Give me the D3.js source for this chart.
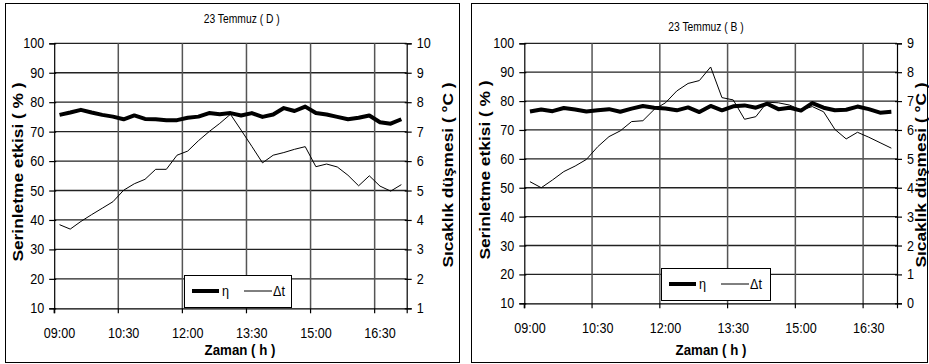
<!DOCTYPE html>
<html><head><meta charset="utf-8">
<script src="https://cdn.jsdelivr.net/npm/d3@7"></script>
<style>
html,body{margin:0;padding:0;background:#fff;}
svg{display:block;}
.narrow{font-family:'Liberation Sans',Arial,sans-serif;}
.bold{font-family:'Liberation Sans',Arial,sans-serif;font-weight:bold;}
</style></head>
<body>
<svg id="c" width="929" height="364"></svg>
<script>
const categories = ["09:00","09:15","09:30","09:45","10:00","10:15","10:30","10:45","11:00","11:15","11:30","11:45",
  "12:00","12:15","12:30","12:45","13:00","13:15","13:30","13:45","14:00","14:15","14:30","14:45",
  "15:00","15:15","15:30","15:45","16:00","16:15","16:30","16:45","17:00"];
const xTickLabels = ["09:00","10:30","12:00","13:30","15:00","16:30"];
const leftTicks = [10,20,30,40,50,60,70,80,90,100];
const rightTicksD = [1,2,3,4,5,6,7,8,9,10];
const rightTicksB = [0,1,2,3,4,5,6,7,8,9];
const etaD = [75.7,76.5,77.4,76.5,75.7,75.1,74.2,75.5,74.3,74.2,73.9,73.9,74.7,75.1,76.3,75.9,76.3,75.5,76.3,75.0,75.8,78.0,77.0,78.5,76.3,75.8,75.0,74.2,74.7,75.5,73.2,72.7,74.2];
const dtD  = [3.84,3.69,3.95,4.18,4.40,4.62,5.01,5.23,5.38,5.72,5.72,6.20,6.34,6.69,7.00,7.28,7.59,7.05,6.50,5.94,6.20,6.29,6.40,6.49,5.81,5.90,5.80,5.52,5.16,5.50,5.15,4.98,5.20];
const etaB = [76.4,77.1,76.5,77.6,77.1,76.4,76.8,77.2,76.3,77.4,78.3,77.7,77.4,76.8,77.8,76.2,78.3,76.8,78.2,78.5,77.7,79.1,77.2,77.7,76.7,79.3,77.7,76.8,77.0,78.1,77.2,76.0,76.3];
const dtB  = [4.21,4.00,4.27,4.56,4.75,4.98,5.42,5.77,5.97,6.29,6.32,6.71,6.94,7.35,7.61,7.71,8.18,7.12,7.04,6.37,6.46,6.96,6.94,6.86,6.69,6.81,6.63,6.02,5.69,5.92,5.75,5.56,5.37];
const titles = ["23 Temmuz ( D )","23 Temmuz ( B )"];
const yTitle = "Serinletme etkisi ( % )";
const y2Title = "Sıcaklık düşmesi ( °C )";
const xTitle = "Zaman ( h )";
const legendLabels = ["η","Δt"];

const svg = d3.select("#c");

// horizontally condense text around its anchor point
function condense(sel, sx){
  sel.each(function(){
    const t = d3.select(this);
    const x = +(t.attr("x")||0), y = +(t.attr("y")||0);
    t.attr("x",0).attr("y",0).attr("transform",`translate(${x},${y}) scale(${sx},1)`);
  });
}

function panel(cfg){
  const g = svg.append("g");
  g.append("rect").attr("x",cfg.bx+0.5).attr("y",cfg.by+0.5).attr("width",cfg.bw).attr("height",cfg.bh)
    .attr("fill","#fff").attr("stroke","#000").attr("stroke-width",1);
  const x = d3.scaleBand().domain(categories).range([cfg.x0,cfg.x1]).paddingInner(0).paddingOuter(0);
  const y = d3.scaleLinear().domain([10,100]).range([cfg.yb,cfg.yt]);
  const y2 = d3.scaleLinear().domain(cfg.r2).range([cfg.yb,cfg.yt]);
  const tickCats = categories.filter(c=>xTickLabels.includes(c));
  g.append("g").selectAll("line").data(leftTicks.slice(1)).join("line")
    .attr("x1",cfg.x0).attr("x2",cfg.x1).attr("y1",d=>y(d)).attr("y2",d=>y(d))
    .attr("stroke","#222").attr("stroke-width",1.3);
  g.append("g").selectAll("line").data(tickCats.slice(1)).join("line")
    .attr("x1",d=>x(d)).attr("x2",d=>x(d)).attr("y1",cfg.yt).attr("y2",cfg.yb)
    .attr("stroke","#555").attr("stroke-width",1.5);
  const ya = d3.axisLeft(y).tickValues(leftTicks).tickSize(5).tickPadding(5);
  const yaG = g.append("g").attr("transform",`translate(${cfg.x0},0)`).call(ya);
  const y2a = d3.axisRight(y2).tickValues(cfg.r2ticks).tickFormat(d3.format("d")).tickSize(5).tickPadding(5);
  const y2G = g.append("g").attr("transform",`translate(${cfg.x1},0)`).call(y2a);
  const xa = d3.axisBottom(x).tickValues(tickCats).tickSize(5).tickPadding(15);
  const xG = g.append("g").attr("transform",`translate(0,${cfg.yb})`).call(xa);
  xG.selectAll(".tick").attr("transform",d=>`translate(${x(d)},0)`);
  xG.selectAll(".tick text").attr("x",x.bandwidth()/2);
  [yaG,y2G,xG].forEach(a=>{
    a.attr("font-family",null).attr("font-size",null);
    a.select(".domain").attr("stroke","#000").attr("stroke-width",1.2);
    a.selectAll(".tick line").attr("stroke","#000").attr("stroke-width",1.2);
    a.selectAll(".tick text").attr("class","narrow").attr("font-size",14).attr("fill","#000");
    condense(a.selectAll(".tick text"),0.9);
  });
  yaG.selectAll(".tick line").attr("x2",-5).attr("x1",2);
  y2G.selectAll(".tick line").attr("x1",-2).attr("x2",5);
  const cx = d=>x(d)+x.bandwidth()/2;
  const lineEta = d3.line().x((d,i)=>cx(categories[i])).y(d=>y(d));
  const lineDt = d3.line().x((d,i)=>cx(categories[i])).y(d=>y2(d));
  g.append("path").datum(cfg.dt).attr("d",lineDt).attr("fill","none").attr("stroke","#000").attr("stroke-width",1);
  g.append("path").datum(cfg.eta).attr("d",lineEta).attr("fill","none").attr("stroke","#000").attr("stroke-width",4).attr("stroke-linejoin","round");
  const tt = g.append("text").attr("class","narrow").attr("x",cfg.tx).attr("y",cfg.ty).attr("text-anchor","middle")
    .attr("font-size",12).text(cfg.title);
  condense(tt,0.86);
  g.append("text").attr("class","bold").attr("font-size",14).attr("text-anchor","middle")
    .attr("transform",`translate(${cfg.ylx},${cfg.yly}) rotate(-90) scale(1.24,1)`).text(yTitle);
  g.append("text").attr("class","bold").attr("font-size",14).attr("text-anchor","middle")
    .attr("transform",`translate(${cfg.y2lx},${cfg.y2ly}) rotate(-90) scale(1.24,1)`).text(y2Title);
  const xt = g.append("text").attr("class","bold").attr("font-size",14).attr("text-anchor","middle")
    .attr("x",cfg.xlx).attr("y",355).text(xTitle);
  condense(xt,0.95);
  const L = cfg.leg;
  const lg = g.append("g").attr("transform",`translate(${L[0]},${L[1]})`);
  lg.append("rect").attr("x",0.5).attr("y",0.5).attr("width",L[2]).attr("height",L[3]).attr("fill","#fff").attr("stroke","#000");
  lg.append("line").attr("x1",8).attr("x2",35).attr("y1",16).attr("y2",16).attr("stroke","#000").attr("stroke-width",4);
  const l1 = lg.append("text").attr("class","narrow").attr("x",38).attr("y",21).attr("font-size",14).text(legendLabels[0]);
  lg.append("line").attr("x1",60).attr("x2",88).attr("y1",16).attr("y2",16).attr("stroke","#000").attr("stroke-width",1);
  const l2 = lg.append("text").attr("class","narrow").attr("x",89).attr("y",21).attr("font-size",14).text(legendLabels[1]);
  condense(l1,0.9); condense(l2,0.9);
}

panel({bx:5,by:3,bw:454,bh:359,x0:54.2,x1:406.7,yt:43.3,yb:308.3,r2:[1,10],r2ticks:rightTicksD,
  eta:etaD,dt:dtD,title:titles[0],tx:241.7,ty:22.5,ylx:23,yly:172,y2lx:453,y2ly:175,xlx:240,leg:[184,275,107,32]});
panel({bx:471,by:3,bw:456,bh:359,x0:524.3,x1:897,yt:43.3,yb:303.3,r2:[0,9],r2ticks:rightTicksB,
  eta:etaB,dt:dtB,title:titles[1],tx:706,ty:30.5,ylx:490,yly:170,y2lx:926,y2ly:175,xlx:711,leg:[661,268,109,32]});
</script>
</body></html>
